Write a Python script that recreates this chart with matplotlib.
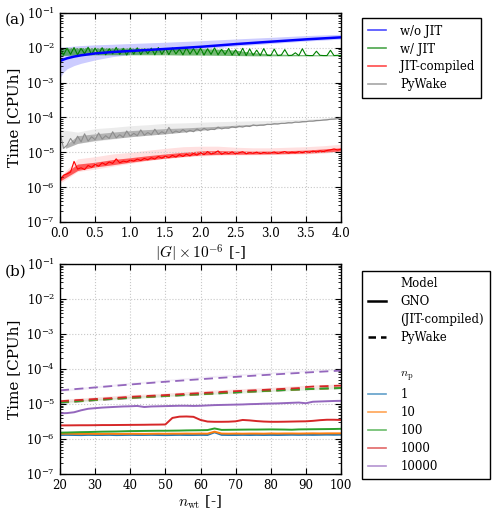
import numpy as np
import matplotlib
matplotlib.use("Agg")
import matplotlib.pyplot as plt
from matplotlib.lines import Line2D
from matplotlib.ticker import LogLocator, NullFormatter, FormatStrFormatter

plt.rcParams.update({
    "font.family": ["DejaVu Serif"],
    "mathtext.fontset": "cm",
    "xtick.direction": "in",
    "ytick.direction": "in",
    "xtick.top": True,
    "ytick.right": True,
    "xtick.major.size": 4,
    "ytick.major.size": 4,
    "ytick.minor.size": 2,
    "xtick.labelsize": 8.5,
    "ytick.labelsize": 8.5,
    "axes.labelsize": 11,
    "axes.linewidth": 1.0,
})

# ---------------- panel (a) data ----------------
g_grid = np.arange(81) * 0.05  # |G| x 1e-6 sampling grid

wo_jit_x = [0, 0.05, 0.1, 0.2, 0.3, 0.5, 0.75, 1.0, 1.5, 2.0, 2.5, 3.0, 3.5, 4.0]
wo_jit = [4.2e-3, 4.6e-3, 5.0e-3, 5.6e-3, 6.1e-3, 6.9e-3, 7.6e-3, 8.1e-3, 9.3e-3,
          1.07e-2, 1.28e-2, 1.5e-2, 1.75e-2, 2.0e-2]
wo_jit_lo = [1.4e-3, 2.0e-3, 2.5e-3, 3.1e-3, 3.6e-3, 4.5e-3, 5.6e-3, 6.4e-3, 7.8e-3,
             9.3e-3, 1.12e-2, 1.33e-2, 1.57e-2, 1.78e-2]
wo_jit_hi = [1.05e-2, 1.05e-2, 1.08e-2, 1.12e-2, 1.16e-2, 1.22e-2, 1.27e-2, 1.33e-2, 1.45e-2,
             1.6e-2, 1.8e-2, 2.0e-2, 2.25e-2, 2.45e-2]

w_jit = [9.5, 6.2, 9.8, 6.5, 10.2, 6.3, 9.6, 6.8, 10.4, 6.4, 9.9, 6.6, 10.1, 6.3, 9.4, 6.7, 10.3, 6.5, 9.7, 6.2,
         9.9, 6.6, 10.0, 6.4, 9.3, 6.8, 9.8, 6.3, 10.2, 6.5, 9.6, 6.4, 9.9, 6.7, 9.2, 6.3, 10.1, 6.6, 9.5, 6.4,
         9.8, 6.2, 9.4, 6.5, 10.0, 6.3, 9.1, 6.4, 9.6, 6.2, 8.8, 6.1, 9.7, 6.0, 9.3, 6.1, 8.6, 6.0, 9.5, 6.1,
         6.0, 9.2, 6.0, 6.2, 8.9, 6.0, 6.1, 7.2, 6.0, 9.4, 6.1, 6.0, 6.0, 8.0, 6.1, 6.0, 6.0, 8.5, 6.0, 6.1, 6.0]
w_jit_scale = 1e-3

pywake_a = [3.8, 1.3, 1.6, 2.5, 1.8, 2.9, 2.0, 3.4, 2.1, 2.8, 2.3, 3.6, 2.4, 3.0, 2.5, 3.9, 2.6, 3.2, 2.7, 4.1,
            2.9, 3.5, 3.0, 4.4, 3.1, 3.7, 3.2, 4.6, 3.3, 3.9, 3.4, 5.2, 3.6, 4.1, 3.7, 4.5, 3.8, 4.3, 3.9, 4.7,
            4.1, 4.9, 4.3, 4.6, 4.5, 5.3, 4.7, 5.0, 4.9, 5.4, 5.1, 5.6, 5.3, 5.7, 5.5, 6.1, 5.8, 6.0, 6.0, 6.4,
            6.3, 6.6, 6.5, 6.8, 6.8, 7.1, 7.0, 7.4, 7.3, 7.6, 7.6, 7.9, 7.9, 8.2, 8.2, 8.5, 8.6, 8.9, 9.0, 9.3, 9.7]
pywake_a_scale = 1e-5

jit_comp = [1.5, 2.2, 2.4, 2.7, 5.5, 3.3, 3.6, 3.2, 4.2, 3.7, 4.5, 4.0, 5.0, 4.4, 5.3, 4.8, 6.5, 5.0, 5.6, 5.3,
            6.0, 5.6, 6.4, 5.8, 6.7, 6.1, 7.0, 6.4, 7.6, 6.8, 7.8, 7.0, 8.2, 7.3, 8.6, 7.6, 8.9, 7.9, 9.3, 8.3,
            9.8, 8.6, 10.5, 8.9, 9.6, 11.0, 8.8, 9.9, 9.2, 10.3, 9.0, 9.7, 10.4, 9.1, 9.8, 9.4, 10.1, 9.2, 9.9, 9.5,
            9.6, 10.2, 9.3, 9.9, 10.5, 9.5, 10.1, 9.7, 10.4, 9.8, 10.6, 10.0, 10.8, 10.2, 11.0, 10.5, 11.3, 11.8, 12.5, 11.7, 12.3]
jit_comp_scale = 1e-6

# spread bands (light shading)
band_x = [0, 0.25, 0.5, 0.75, 1.0, 1.25, 1.5, 1.75, 2.0, 2.25, 2.5, 2.75, 3.0, 3.25, 3.5, 3.75, 4.0]
jit_comp_lo = [1.3, 2.8, 3.3, 4.0, 4.8, 5.8, 6.6, 7.3, 7.9, 8.2, 8.4, 8.5, 8.6, 8.8, 9.0, 9.5, 10.5]
jit_comp_hi = [2.0, 6.5, 7.5, 9.0, 10.0, 11.5, 13.0, 14.5, 15.0, 15.0, 14.0, 13.5, 13.5, 14.0, 14.5, 15.5, 17.0]
pywake_a_lo = [1.2, 1.8, 2.1, 2.4, 2.8, 3.1, 3.4, 3.8, 4.2, 4.7, 5.2, 5.8, 6.3, 6.9, 7.6, 8.3, 9.4]
pywake_a_hi = [4.5, 3.8, 4.8, 5.2, 5.8, 6.2, 6.8, 7.0, 7.3, 7.6, 7.8, 8.0, 8.2, 8.6, 9.0, 9.6, 10.6]

# dense cores of the noisy traces (min/max envelope of the fast fluctuations)
w_jit_core_lo = [6.0, 6.2, 6.3, 6.3, 6.3, 6.3, 6.3, 6.2, 6.2, 6.1, 6.0, 5.9, 5.9, 5.9, 5.9, 5.9, 5.9]
w_jit_core_hi = [10.0, 10.2, 10.1, 10.1, 10.0, 9.9, 9.8, 9.7, 9.5, 9.2, 8.6, 7.3, 6.7, 6.5, 6.4, 6.3, 6.3]
jit_core_lo = [1.5, 3.0, 3.8, 4.4, 5.2, 6.0, 6.8, 7.6, 8.4, 8.7, 8.8, 8.9, 9.0, 9.2, 9.5, 10.0, 11.0]
jit_core_hi = [2.0, 4.6, 5.2, 6.2, 7.0, 8.0, 9.0, 10.0, 11.0, 11.2, 11.0, 10.8, 10.9, 11.2, 11.6, 12.5, 13.5]
pw_core_x = [0.08, 0.25, 0.5, 0.75, 1.0, 1.25, 1.5, 1.75, 2.0, 2.25, 2.5, 2.75, 3.0, 3.25, 3.5, 3.75, 4.0]
pw_core_lo = [1.3, 1.8, 2.2, 2.5, 2.8, 3.1, 3.4, 3.8, 4.3, 4.8, 5.3, 5.9, 6.4, 7.0, 7.6, 8.4, 9.5]
pw_core_hi = [1.6, 3.0, 3.4, 3.8, 4.2, 4.5, 4.8, 5.0, 5.3, 5.6, 6.0, 6.4, 6.8, 7.3, 7.9, 8.7, 9.9]

# ---------------- panel (b) data ----------------
n_wt = np.arange(20, 101, 2)

gno_1 = [1.30, 1.31, 1.30, 1.29, 1.31, 1.30, 1.30, 1.31, 1.29, 1.30, 1.31, 1.30, 1.30, 1.31, 1.30, 1.29, 1.30, 1.31,
         1.30, 1.30, 1.31, 1.30, 1.55, 1.31, 1.30, 1.30, 1.31, 1.30, 1.31, 1.30, 1.31, 1.30, 1.31, 1.32, 1.31, 1.32,
         1.31, 1.32, 1.33, 1.32, 1.33]
gno_10 = [1.42, 1.42, 1.41, 1.40, 1.41, 1.40, 1.40, 1.41, 1.40, 1.40, 1.41, 1.41, 1.40, 1.41, 1.42, 1.41, 1.42, 1.42,
          1.43, 1.42, 1.43, 1.42, 1.62, 1.43, 1.42, 1.43, 1.42, 1.43, 1.43, 1.42, 1.44, 1.43, 1.44, 1.44, 1.43, 1.44,
          1.45, 1.44, 1.45, 1.45, 1.45]
gno_100 = [1.52, 1.53, 1.55, 1.57, 1.58, 1.60, 1.62, 1.63, 1.64, 1.66, 1.68, 1.69, 1.70, 1.71, 1.72, 1.72, 1.73, 1.74,
           1.76, 1.77, 1.78, 1.80, 2.00, 1.82, 1.83, 1.84, 1.85, 1.86, 1.86, 1.87, 1.88, 1.87, 1.86, 1.84, 1.88, 1.89,
           1.90, 1.91, 1.92, 1.93, 1.95]
gno_1000 = [2.45, 2.45, 2.46, 2.47, 2.47, 2.48, 2.50, 2.50, 2.51, 2.52, 2.53, 2.54, 2.55, 2.57, 2.58, 2.60, 4.00, 4.35,
            4.40, 4.30, 3.50, 3.15, 3.10, 3.10, 3.12, 3.20, 3.50, 3.40, 3.25, 3.15, 3.10, 3.10, 3.12, 3.15, 3.18, 3.20,
            3.30, 3.45, 3.55, 3.55, 3.50]
gno_10000 = [5.4, 5.5, 5.8, 6.6, 7.3, 7.6, 7.9, 8.1, 8.3, 8.5, 8.6, 8.8, 8.2, 8.5, 8.6, 8.7, 8.8, 8.9, 8.9, 8.8,
             8.9, 9.1, 9.3, 9.4, 9.5, 9.6, 9.7, 9.9, 10.0, 10.2, 10.3, 10.4, 10.6, 10.8, 11.0, 10.5, 11.6, 11.8,
             12.0, 12.2, 12.3]
gno_scale = 1e-6

pw_1 = [1.08, 1.12, 1.16, 1.20, 1.24, 1.28, 1.32, 1.36, 1.40, 1.44, 1.48, 1.52, 1.56, 1.60, 1.64, 1.68, 1.72, 1.76,
        1.80, 1.84, 1.88, 1.93, 1.98, 2.03, 2.08, 2.13, 2.18, 2.23, 2.28, 2.33, 2.38, 2.43, 2.48, 2.53, 2.58, 2.63,
        2.68, 2.72, 2.76, 2.80, 2.84]
pw_10 = [1.10, 1.14, 1.17, 1.21, 1.25, 1.29, 1.33, 1.37, 1.41, 1.45, 1.49, 1.53, 1.57, 1.61, 1.65, 1.69, 1.73, 1.77,
         1.81, 1.85, 1.89, 1.94, 1.99, 2.04, 2.09, 2.14, 2.19, 2.24, 2.29, 2.34, 2.39, 2.44, 2.49, 2.54, 2.59, 2.64,
         2.69, 2.73, 2.77, 2.81, 2.85]
pw_100 = [1.12, 1.15, 1.19, 1.23, 1.27, 1.31, 1.35, 1.39, 1.43, 1.47, 1.51, 1.55, 1.59, 1.63, 1.67, 1.71, 1.75, 1.79,
          1.83, 1.87, 1.91, 1.96, 2.01, 2.06, 2.11, 2.16, 2.21, 2.26, 2.31, 2.36, 2.41, 2.46, 2.51, 2.56, 2.61, 2.66,
          2.71, 2.75, 2.79, 2.83, 2.87]
pw_1000 = [1.20, 1.24, 1.28, 1.31, 1.35, 1.39, 1.42, 1.46, 1.50, 1.55, 1.60, 1.64, 1.68, 1.72, 1.76, 1.80, 1.85, 1.90,
           1.95, 2.00, 2.05, 2.10, 2.15, 2.21, 2.27, 2.33, 2.38, 2.43, 2.48, 2.53, 2.60, 2.66, 2.72, 2.78, 2.85, 3.05,
           3.15, 3.20, 3.25, 3.30, 3.35]
pw_10000 = [2.45, 2.55, 2.65, 2.75, 2.86, 2.97, 3.09, 3.21, 3.34, 3.47, 3.60, 3.74, 3.88, 4.02, 4.17, 4.32, 4.47, 4.62,
            4.78, 4.94, 5.10, 5.27, 5.44, 5.61, 5.78, 5.96, 6.14, 6.32, 6.51, 6.70, 6.89, 7.09, 7.29, 7.49, 7.70, 7.91,
            8.12, 8.34, 8.56, 8.78, 9.00]
pw_scale = 1e-5

band_b_x = [20, 30, 40, 50, 60, 70, 80, 90, 100]
pw_1000_lo = [1.10, 1.30, 1.50, 1.75, 1.98, 2.25, 2.50, 2.80, 3.00]
pw_1000_hi = [1.35, 1.60, 1.85, 2.05, 2.40, 2.70, 3.00, 3.45, 3.75]
pw_100_lo = [1.02, 1.22, 1.40, 1.60, 1.80, 2.00, 2.25, 2.50, 2.72]
pw_100_hi = [1.22, 1.45, 1.65, 1.85, 2.05, 2.30, 2.55, 2.80, 3.05]
pw_10000_lo = [2.25, 2.85, 3.60, 4.50, 5.40, 6.40, 7.40, 8.40, 9.40]
pw_10000_hi = [2.65, 3.30, 4.15, 5.05, 6.15, 7.20, 8.30, 9.40, 10.5]

np_labels = ["1", "10", "100", "1000", "10000"]
np_colors = ["#1f77b4", "#ff7f0e", "#2ca02c", "#d62728", "#9467bd"]

# ---------------- figure ----------------
fig = plt.figure(figsize=(5.0, 5.16), dpi=100)
ax1 = fig.add_axes([0.12, 0.5698, 0.562, 0.405])
ax2 = fig.add_axes([0.12, 0.0814, 0.562, 0.407])

# panel (a)
ax1.fill_between(wo_jit_x, wo_jit_lo, wo_jit_hi, color="b", alpha=0.2, lw=0)
ax1.fill_between(band_x, np.array(jit_comp_lo) * jit_comp_scale, np.array(jit_comp_hi) * jit_comp_scale,
                 color="r", alpha=0.12, lw=0)
ax1.fill_between(band_x, np.array(pywake_a_lo) * pywake_a_scale, np.array(pywake_a_hi) * pywake_a_scale,
                 color="gray", alpha=0.15, lw=0)
ax1.fill_between(band_x, np.array(w_jit_core_lo) * w_jit_scale, np.array(w_jit_core_hi) * w_jit_scale,
                 color="g", alpha=0.55, lw=0)
ax1.plot(g_grid, np.array(w_jit) * w_jit_scale, color="g", lw=0.8)
ax1.plot(wo_jit_x, wo_jit, color="b", lw=1.8)
ax1.fill_between(band_x, np.array(jit_core_lo) * jit_comp_scale, np.array(jit_core_hi) * jit_comp_scale,
                 color="r", alpha=0.6, lw=0)
ax1.plot(g_grid, np.array(jit_comp) * jit_comp_scale, color="r", lw=0.8)
ax1.fill_between(pw_core_x, np.array(pw_core_lo) * pywake_a_scale, np.array(pw_core_hi) * pywake_a_scale,
                 color="#8c8c8c", alpha=0.6, lw=0)
ax1.plot(g_grid, np.array(pywake_a) * pywake_a_scale, color="#8c8c8c", lw=0.8)

ax1.set_xlim(0, 4)
ax1.set_xlabel(r"$|G| \times 10^{-6}$ [-]", labelpad=2)
ax1.xaxis.set_major_formatter(FormatStrFormatter("%.1f"))
ax1.set_xticks(np.arange(0, 4.01, 0.5))

# panel (b)
ax2.fill_between(band_b_x, np.array(pw_10000_lo) * pw_scale, np.array(pw_10000_hi) * pw_scale,
                 color=np_colors[4], alpha=0.1, lw=0)
ax2.fill_between(band_b_x, np.array(pw_1000_lo) * pw_scale, np.array(pw_1000_hi) * pw_scale,
                 color=np_colors[3], alpha=0.12, lw=0)
ax2.fill_between(band_b_x, np.array(pw_100_lo) * pw_scale, np.array(pw_100_hi) * pw_scale,
                 color=np_colors[2], alpha=0.12, lw=0)
for vals, c in zip([gno_1, gno_10, gno_100, gno_1000, gno_10000], np_colors):
    ax2.plot(n_wt, np.array(vals) * gno_scale, color=c, lw=1.4, ls="-")
for vals, c in zip([pw_1, pw_10, pw_100, pw_1000, pw_10000], np_colors):
    ax2.plot(n_wt, np.array(vals) * pw_scale, color=c, lw=1.3, ls=(0, (5, 3)))

ax2.set_xlim(20, 100)
ax2.set_xticks(np.arange(20, 101, 10))
ax2.set_xlabel(r"$n_{\rm wt}$ [-]", labelpad=1)

for ax in (ax1, ax2):
    ax.set_yscale("log")
    ax.set_ylim(1e-7, 1e-1)
    ax.yaxis.set_major_locator(LogLocator(base=10, numticks=10))
    ax.yaxis.set_minor_locator(LogLocator(base=10, subs=np.arange(2, 10), numticks=10))
    ax.yaxis.set_minor_formatter(NullFormatter())
    ax.set_ylabel("Time [CPUh]")
    ax.grid(True, which="major", ls=":", color="#c8c8c8", lw=0.8)
    ax.tick_params(which="both", direction="in", top=True, right=True)

fig.text(0.01, 0.961, "(a)", fontsize=11, va="center", ha="left")
fig.text(0.01, 0.4735, "(b)", fontsize=11, va="center", ha="left")

legend_kw = dict(loc="upper left", fontsize=8.5, fancybox=False, framealpha=1, edgecolor="black",
                 handlelength=1.5, handletextpad=1.2, labelspacing=0.42, borderpad=0.55,
                 borderaxespad=0.0)

# legend (a)
hA = [Line2D([], [], color="b", lw=1.2, alpha=0.7),
      Line2D([], [], color="g", lw=1.2, alpha=0.7),
      Line2D([], [], color="r", lw=1.2, alpha=0.7),
      Line2D([], [], color="gray", lw=1.2, alpha=0.7)]
legA = fig.legend(hA, ["w/o JIT", "w/ JIT", "JIT-compiled", "PyWake"],
                  bbox_to_anchor=(0.724, 0.965), **legend_kw)
legA.get_frame().set_linewidth(1.0)

# legend (b)
empty = Line2D([], [], color="none")
hB = [empty,
      Line2D([], [], color="black", lw=1.8, ls="-"),
      empty,
      Line2D([], [], color="black", lw=1.8, ls=(0, (3, 2))),
      empty, empty] + [Line2D([], [], color=c, lw=1.2, alpha=0.7) for c in np_colors]
lB = ["Model", "GNO", "(JIT-compiled)", "PyWake", " ", r"$n_{\rm p}$"] + np_labels
legB = fig.legend(hB, lB, bbox_to_anchor=(0.724, 0.475), **legend_kw)
legB.get_frame().set_linewidth(1.0)

fig.savefig("out.png", dpi=100)
